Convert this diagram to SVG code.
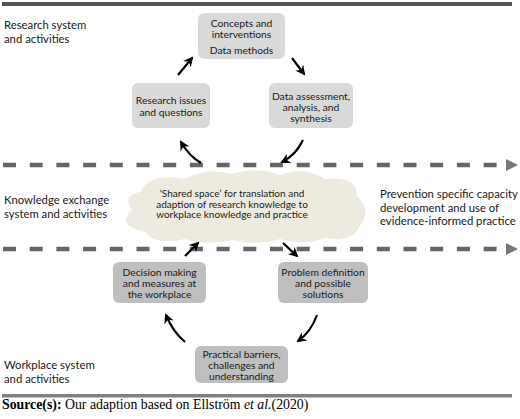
<svg xmlns="http://www.w3.org/2000/svg" width="520" height="419" viewBox="0 0 520 419">
<defs>
<style>
.lbl{font-family:Lato,"Liberation Sans",sans-serif;font-size:11.3px;fill:#1a1a1a}
.nt{font-family:Lato,"Liberation Sans",sans-serif;font-size:10.3px;fill:#1a1a1a;text-anchor:middle}
.ct{font-family:Lato,"Liberation Sans",sans-serif;font-size:10px;fill:#1a1a1a;text-anchor:middle}
.top{fill:#d9d9d9}
.bot{fill:#bfbfbf}
.arr{fill:none;stroke:#000;stroke-width:2.2;marker-end:url(#ah)}
.dash{stroke:#666;stroke-width:4.5;stroke-dasharray:13 13.7;fill:none}
</style>
<marker id="ah" viewBox="0 0 10 10" refX="8" refY="5" markerWidth="10" markerHeight="10" markerUnits="userSpaceOnUse" orient="auto">
<path d="M0,0 L10,5 L0,10 L3,5 Z" fill="#000"/>
</marker>
</defs>
<rect width="520" height="419" fill="#fff"/>
<rect x="2" y="2" width="510" height="4" fill="#555"/>
<rect x="2" y="394" width="510" height="3.5" fill="#808080"/>

<g id="labels">
<text class="lbl" x="4" y="29">Research system</text>
<text class="lbl" x="4" y="43">and activities</text>
<text class="lbl" x="4" y="204">Knowledge exchange</text>
<text class="lbl" x="4" y="217.5">system and activities</text>
<text class="lbl" x="4" y="369">Workplace system</text>
<text class="lbl" x="4" y="382.5">and activities</text>
<text class="lbl" x="380" y="197.5">Prevention specific capacity</text>
<text class="lbl" x="380" y="211.5">development and use of</text>
<text class="lbl" x="380" y="225">evidence-informed practice</text>
</g>

<g id="dashed-lines">
<path class="dash" d="M3,165 H504"/>
<path d="M506,159 L518,165 L506,171 Z" fill="#777"/>
<path class="dash" d="M3,249 H504"/>
<path d="M506,243 L518,249 L506,255 Z" fill="#777"/>
</g>

<g id="shared-space">
<path d="M140,192 Q150,172 185,179 Q205,167 232,174 Q258,166 280,175 Q305,166 325,179 Q358,176 357,196 Q372,210 360,226 Q352,243 325,238 Q305,246 280,239 Q255,246 232,240 Q205,246 185,239 Q155,246 145,232 Q115,225 132,210 Q122,195 140,192 Z" fill="#edebe0"/>
<text class="ct" x="232" y="197">‘Shared space’ for translation and</text>
<text class="ct" x="232" y="207.5">adaption of research knowledge to</text>
<text class="ct" x="232" y="218">workplace knowledge and practice</text>
</g>

<g id="concepts">
<rect class="top" x="198" y="13" width="87" height="46" rx="6"/>
<text class="nt" x="241.5" y="26.5">Concepts and</text>
<text class="nt" x="241.5" y="37.5">interventions</text>
<text class="nt" x="241.5" y="53.5">Data methods</text>
</g>
<g id="research-issues">
<rect class="top" x="132" y="83" width="78" height="45" rx="6"/>
<text class="nt" x="171" y="104">Research issues</text>
<text class="nt" x="171" y="115.5">and questions</text>
</g>
<g id="data-assessment">
<rect class="top" x="269" y="83" width="84" height="45" rx="6"/>
<text class="nt" x="311" y="99.5">Data assessment,</text>
<text class="nt" x="311" y="110.5">analysis, and</text>
<text class="nt" x="311" y="121.5">synthesis</text>
</g>
<g id="decision-making">
<rect class="bot" x="113" y="262" width="93" height="41" rx="6"/>
<text class="nt" x="159.5" y="275.5">Decision making</text>
<text class="nt" x="159.5" y="286.5">and measures at</text>
<text class="nt" x="159.5" y="297.5">the workplace</text>
</g>
<g id="problem-definition">
<rect class="bot" x="278" y="262" width="90" height="41" rx="6"/>
<text class="nt" x="323" y="275.5">Problem definition</text>
<text class="nt" x="323" y="286.5">and possible</text>
<text class="nt" x="323" y="297.5">solutions</text>
</g>
<g id="practical-barriers">
<rect class="bot" x="195" y="346" width="93" height="37" rx="6"/>
<text class="nt" x="241.5" y="357.5">Practical barriers,</text>
<text class="nt" x="241.5" y="368.5">challenges and</text>
<text class="nt" x="241.5" y="380">understanding</text>
</g>

<g id="connectors">
<path class="arr" d="M178,75 L192,58"/>
<path class="arr" d="M292,58 L304,74"/>
<path class="arr" d="M303,140 Q296,155 282,162"/>
<path class="arr" d="M201,163 Q189,156 181,142"/>
<path class="arr" d="M185,256 L198,243"/>
<path class="arr" d="M283,243 L297,256"/>
<path class="arr" d="M317,315 Q311,332 298,341"/>
<path class="arr" d="M185,342 Q173,332 166,315"/>
</g>

<text x="2" y="409" font-family="'Liberation Serif',serif" font-size="13.8" fill="#000"><tspan font-weight="bold">Source(s):</tspan> Our adaption based on Ellström <tspan font-style="italic">et al.</tspan>(2020)</text>
</svg>
